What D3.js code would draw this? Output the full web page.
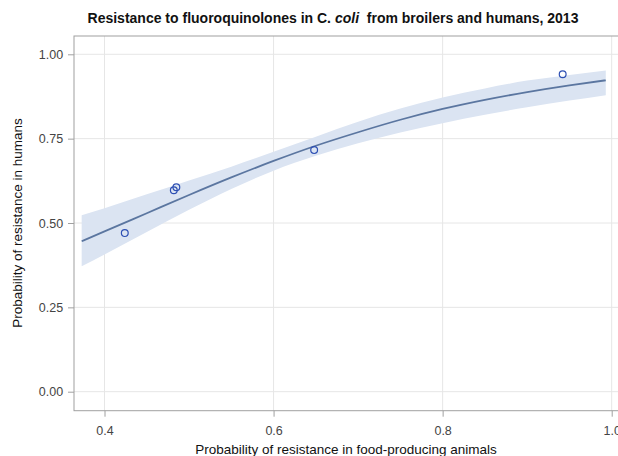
<!DOCTYPE html>
<html><head><meta charset="utf-8">
<script src="https://cdn.jsdelivr.net/npm/d3@7"></script>
<style>body{margin:0;background:#fff;}svg{display:block;font-family:"Liberation Sans",Arial,sans-serif;}</style>
</head><body>
<svg id="c" width="618" height="456"></svg>
<script>
// Observed points (animals, humans)
const pointX = [0.424, 0.482, 0.485, 0.648, 0.942];
const pointY = [0.470, 0.597, 0.606, 0.716, 0.941];
// Fitted curve with confidence band
const curveX   = [0.373, 0.40, 0.45, 0.50, 0.55, 0.60, 0.65, 0.70, 0.75, 0.80, 0.85, 0.90, 0.95, 0.993];
const curveFit = [0.446, 0.475, 0.529, 0.583, 0.635, 0.684, 0.729, 0.769, 0.806, 0.838, 0.865, 0.888, 0.908, 0.923];
const curveLo  = [0.372, 0.407, 0.473, 0.539, 0.601, 0.655, 0.699, 0.736, 0.768, 0.796, 0.821, 0.843, 0.863, 0.879];
const curveHi  = [0.523, 0.544, 0.585, 0.626, 0.667, 0.711, 0.756, 0.800, 0.839, 0.872, 0.899, 0.922, 0.939, 0.952];
const xTicks = [0.4, 0.6, 0.8, 1.0];
const yTicks = [0.00, 0.25, 0.50, 0.75, 1.00];
const title = "Resistance to fluoroquinolones in C. ";
const titleItalic = "coli";
const titleRest = "  from broilers and humans, 2013";
const xLabel = "Probability of resistance in food-producing animals";
const yLabel = "Probability of resistance in humans";

const svg = d3.select("#c");
const L = 74, T = 36, B = 410.7, R = 624;
const x = d3.scaleLinear().domain([0.4, 1.0]).range([104.5, 611.7]);
const y = d3.scaleLinear().domain([0, 1]).range([391.7, 54.3]);

const grid = svg.append("g");
xTicks.forEach(t => grid.append("line").attr("x1", x(t)).attr("x2", x(t)).attr("y1", T).attr("y2", B)
  .attr("stroke", "#e6e6e6").attr("stroke-width", 1));
yTicks.forEach(t => grid.append("line").attr("x1", L).attr("x2", R).attr("y1", y(t)).attr("y2", y(t))
  .attr("stroke", "#e6e6e6").attr("stroke-width", 1));

const curve = curveX.map((v, i) => ({x: v, f: curveFit[i], lo: curveLo[i], hi: curveHi[i]}));
svg.append("path").datum(curve)
  .attr("d", d3.area().x(d => x(d.x)).y0(d => y(d.lo)).y1(d => y(d.hi)).curve(d3.curveMonotoneX))
  .attr("fill", "#dbe4f2");
svg.append("path").datum(curve)
  .attr("d", d3.line().x(d => x(d.x)).y(d => y(d.f)).curve(d3.curveMonotoneX))
  .attr("fill", "none").attr("stroke", "#5b76a0").attr("stroke-width", 1.8);

svg.append("g").selectAll("circle").data(pointX.map((v, i) => [v, pointY[i]])).join("circle")
  .attr("cx", d => x(d[0])).attr("cy", d => y(d[1])).attr("r", 3.4)
  .attr("fill", "none").attr("stroke", "#2d4fb3").attr("stroke-width", 1.2);

svg.append("rect").attr("x", L).attr("y", T).attr("width", R - L).attr("height", B - T)
  .attr("fill", "none").attr("stroke", "#a0a0a0").attr("stroke-width", 1);

const xAxis = svg.append("g").attr("transform", `translate(0,${B})`)
  .call(d3.axisBottom(x).tickValues(xTicks).tickFormat(d3.format(".1f")).tickSize(6).tickSizeOuter(0));
const yAxis = svg.append("g").attr("transform", `translate(${L},0)`)
  .call(d3.axisLeft(y).tickValues(yTicks).tickFormat(d3.format(".2f")).tickSize(6).tickSizeOuter(0));
[xAxis, yAxis].forEach(a => {
  a.select(".domain").remove();
  a.selectAll(".tick line").attr("stroke", "#a0a0a0");
  a.selectAll(".tick text").attr("fill", "#444").style("font-size", "12.5px")
    .style("font-family", "'Liberation Sans',Arial,sans-serif");
});
xAxis.selectAll(".tick text").attr("dy", "1.2em");
yAxis.selectAll(".tick text").attr("dx", "-0.15em");

const tt = svg.append("text").attr("x", 333).attr("y", 23).attr("text-anchor", "middle")
  .style("font-size", "14px").style("font-weight", "bold").attr("fill", "#111");
tt.append("tspan").text(title);
tt.append("tspan").style("font-style", "italic").text(titleItalic);
tt.append("tspan").attr("xml:space", "preserve").style("white-space", "pre").text(titleRest);

svg.append("text").attr("x", 346).attr("y", 454).attr("text-anchor", "middle")
  .style("font-size", "13.5px").attr("fill", "#111").text(xLabel);
svg.append("text").attr("transform", "translate(22,223) rotate(-90)").attr("text-anchor", "middle")
  .style("font-size", "13.5px").attr("fill", "#111").text(yLabel);
</script>
</body></html>
